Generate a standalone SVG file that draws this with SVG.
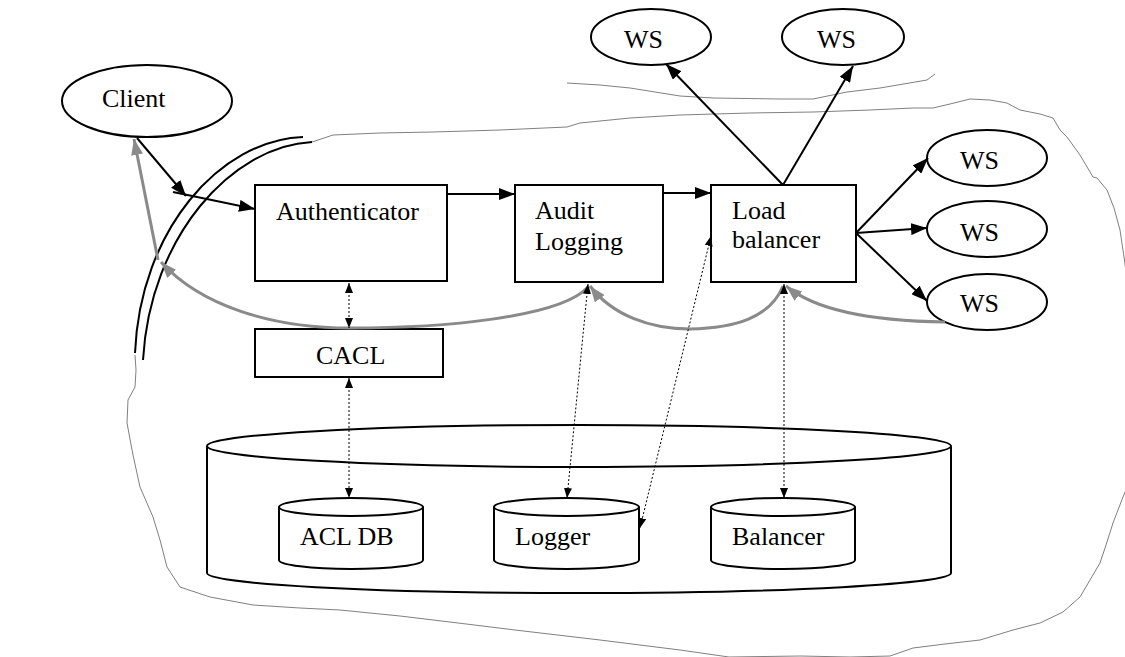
<svg xmlns="http://www.w3.org/2000/svg" width="1125" height="657" viewBox="0 0 1125 657">
  <style>
    .shape { fill: #fff; stroke: #000; stroke-width: 2; }
    .label { font-family: "Liberation Serif", "Times New Roman", serif; font-size: 26px; fill: #000; }
    .solid { fill: none; stroke: #000; stroke-width: 2; }
    .grey { fill: none; stroke: #8a8a8a; stroke-width: 3; }
    .dots { fill: none; stroke: #000; stroke-width: 1; stroke-dasharray: 2 2; }
    .sketch { fill: none; stroke: #808080; stroke-width: 1; stroke-linejoin: round; }
    .wall { fill: none; stroke: #000; stroke-width: 2; }
  </style>
  <defs>
    <marker id="head" viewBox="0 0 16 12" refX="16" refY="6" markerWidth="16" markerHeight="12" orient="auto" markerUnits="userSpaceOnUse">
      <path d="M0,0 L16,6 L0,12 z" fill="#000"/>
    </marker>
    <marker id="headGrey" viewBox="0 0 16 12" refX="16" refY="6" markerWidth="16" markerHeight="12" orient="auto" markerUnits="userSpaceOnUse">
      <path d="M0,0 L16,6 L0,12 z" fill="#8a8a8a"/>
    </marker>
    <marker id="tip" viewBox="0 0 10 8" refX="10" refY="4" markerWidth="10" markerHeight="8" orient="auto-start-reverse" markerUnits="userSpaceOnUse">
      <path d="M0,0 L10,4 L0,8 z" fill="#000"/>
    </marker>
  </defs>

  <rect width="1125" height="657" fill="#fff"/>

  <!-- hand-drawn system boundary -->
  <g id="boundary">
    <path class="sketch" d="M312,142 L333,135 L380,133 L433,132 L500,130 L567,127 L580,123 L630,118 L680,115 L750,113 L813,112 L870,110 L913,108 L933,108 L950,104 L970,99 L990,100 L1007,103 L1020,110 L1040,114 L1053,118 L1060,130 L1067,137 L1080,155 L1093,177 L1097,178 L1107,190 L1114,208 L1120,230 L1124,257 L1130,300 L1130,480 L1123,497 L1113,523 L1106,545 L1100,563 L1090,580 L1080,597 L1063,612 L1040,623 L1013,630 L980,640 L945,644 L913,648 L890,656 L850,657 L800,656 L729,657 L680,650 L600,640 L515,630 L450,622 L400,616 L340,610 L300,608 L253,605 L210,597 L180,587 L167,567 L160,540 L153,517 L140,487 L133,455 L127,423 L128,400 L135,387 L136,370 L135,355"/>
    <path class="sketch" d="M567,83 L600,85 L630,88 L680,96 L713,98 L780,99 L813,99 L847,92 L880,88 L927,80 L935,74"/>
  </g>

  <!-- firewall: double arc -->
  <g id="firewall">
    <path class="wall" d="M303,137 C220,140 140,230 135,353"/>
    <path class="wall" d="M312,142 C232,146 150,236 143,360"/>
  </g>

  <g id="client">
    <ellipse class="shape" cx="147" cy="101" rx="85" ry="36"/>
    <text class="label" x="102" y="107">Client</text>
  </g>

  <g id="authenticator">
    <rect class="shape" x="255" y="185" width="192" height="96"/>
    <text class="label" x="276" y="220">Authenticator</text>
  </g>

  <g id="audit-logging">
    <rect class="shape" x="515" y="185" width="148" height="97"/>
    <text class="label" x="535" y="219">Audit</text>
    <text class="label" x="535" y="250">Logging</text>
  </g>

  <g id="load-balancer">
    <rect class="shape" x="711" y="185" width="145" height="97"/>
    <text class="label" x="732" y="219">Load</text>
    <text class="label" x="732" y="248">balancer</text>
  </g>

  <g id="cacl">
    <rect class="shape" x="255" y="329" width="188" height="48"/>
    <text class="label" x="316" y="364">CACL</text>
  </g>

  <g id="ws-top-1">
    <ellipse class="shape" cx="651" cy="37" rx="60" ry="28"/>
    <text class="label" x="624" y="48">WS</text>
  </g>
  <g id="ws-top-2">
    <ellipse class="shape" cx="843" cy="37" rx="61" ry="28"/>
    <text class="label" x="817" y="48">WS</text>
  </g>
  <g id="ws-right-1">
    <ellipse class="shape" cx="987" cy="158" rx="60" ry="28"/>
    <text class="label" x="960" y="169">WS</text>
  </g>
  <g id="ws-right-2">
    <ellipse class="shape" cx="987" cy="229" rx="60" ry="28"/>
    <text class="label" x="960" y="241">WS</text>
  </g>
  <g id="ws-right-3">
    <ellipse class="shape" cx="987" cy="302" rx="60" ry="28"/>
    <text class="label" x="960" y="312">WS</text>
  </g>

  <!-- data store cylinder holding the three databases -->
  <g id="store">
    <path class="shape" d="M207,446 L207,573 A372,20 0 0 0 951,573 L951,446"/>
    <ellipse class="shape" cx="579" cy="446" rx="372" ry="21"/>
  </g>

  <g id="acl-db">
    <path class="shape" d="M279,507 L279,560 A72,9 0 0 0 423,560 L423,507"/>
    <ellipse class="shape" cx="351" cy="507" rx="72" ry="9"/>
    <text class="label" x="300" y="545">ACL DB</text>
  </g>
  <g id="logger">
    <path class="shape" d="M494,507 L494,560 A72.5,9 0 0 0 639,560 L639,507"/>
    <ellipse class="shape" cx="566.5" cy="507" rx="72.5" ry="9"/>
    <text class="label" x="515" y="545">Logger</text>
  </g>
  <g id="balancer">
    <path class="shape" d="M711,507 L711,560 A72,9 0 0 0 855,560 L855,507"/>
    <ellipse class="shape" cx="783" cy="507" rx="72" ry="9"/>
    <text class="label" x="732" y="545">Balancer</text>
  </g>

  <g id="connectors">
    <!-- request path -->
    <path class="solid" d="M137,138 L186,196" marker-end="url(#head)"/>
    <path class="solid" d="M173,192 L255,209" marker-end="url(#head)"/>
    <path class="solid" d="M447,194 L515,194" marker-end="url(#head)"/>
    <path class="solid" d="M663,193 L711,193" marker-end="url(#head)"/>
    <path class="solid" d="M783,185 L666,64" marker-end="url(#head)"/>
    <path class="solid" d="M783,185 L853,66" marker-end="url(#head)"/>
    <path class="solid" d="M856,233 L928,158" marker-end="url(#head)"/>
    <path class="solid" d="M856,233 L927,228" marker-end="url(#head)"/>
    <path class="solid" d="M856,233 L927,301" marker-end="url(#head)"/>

    <!-- response path -->
    <path class="grey" d="M945,322 C870,321 815,310 786,286" marker-end="url(#headGrey)"/>
    <path class="grey" d="M783,286 C770,318 735,328 690,329 C650,329 612,315 590,286" marker-end="url(#headGrey)"/>
    <path class="grey" d="M588,287 C560,318 440,328 350,328 C270,328 200,305 161,262" marker-end="url(#headGrey)"/>
    <path class="grey" d="M158,260 L134,139" marker-end="url(#headGrey)"/>

    <!-- data access -->
    <path class="dots" d="M349,283 L349,328" marker-start="url(#tip)" marker-end="url(#tip)"/>
    <path class="dots" d="M349,378 L349,498" marker-start="url(#tip)" marker-end="url(#tip)"/>
    <path class="dots" d="M588,284 L567,498" marker-start="url(#tip)" marker-end="url(#tip)"/>
    <path class="dots" d="M711,236 L640,528" marker-start="url(#tip)" marker-end="url(#tip)"/>
    <path class="dots" d="M784,284 L784,498" marker-start="url(#tip)" marker-end="url(#tip)"/>
  </g>
</svg>
